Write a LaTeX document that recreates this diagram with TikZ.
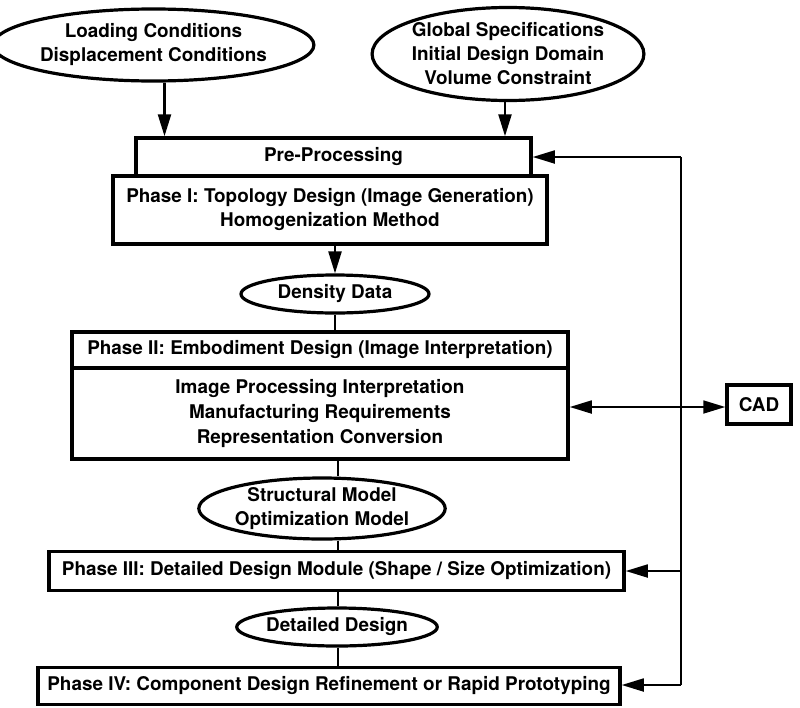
\documentclass[tikz,border=0pt]{standalone}
\usepackage{fontspec}
\setmainfont{TeX Gyre Heros}
\usetikzlibrary{shapes.geometric,arrows.meta}
\begin{document}
\begin{tikzpicture}[x=1pt,y=-1pt,
  every node/.style={font=\fontsize{18.9}{24}\selectfont\bfseries, align=center, inner sep=0pt},
  ell/.style={ellipse, draw, line width=3.2pt},
  box/.style={rectangle, draw, line width=3.5pt},
  conn/.style={line width=2.4pt},
  arr/.style={conn, -{Triangle[length=22pt,width=13pt]}},
  fb/.style={line width=1.8pt},
  fbarr/.style={fb, -{Triangle[length=22pt,width=13pt]}},
  both/.style={fb, {Triangle[length=22pt,width=13pt]}-{Triangle[length=22pt,width=13pt]}},
]
\useasboundingbox (0,0) rectangle (800,707);

% inputs
\node[ell, minimum width=285, minimum height=72] (load) at (153.5,45) {Loading Conditions\\Displacement Conditions};
\node[ell, minimum width=255, minimum height=93] (glob) at (508,54) {Global Specifications\\Initial Design Domain\\Volume Constraint};

% phase I
\node[box, minimum width=395, minimum height=38] (pre) at (333.5,157) {Pre-Processing};
\node[box, minimum width=434, minimum height=68] (p1) at (330,210) {Phase I: Topology Design (Image Generation)\\Homogenization Method};

\node[ell, minimum width=188, minimum height=38] (dens) at (335,294) {Density Data};

% phase II
\node[box, minimum width=496, minimum height=36] (p2h) at (320,350) {Phase II: Embodiment Design (Image Interpretation)};
\node[box, minimum width=496, minimum height=91] (p2b) at (320,413.5) {Image Processing Interpretation\\[1pt]Manufacturing Requirements\\[1pt]Representation Conversion};

\node[ell, minimum width=236, minimum height=61] (model) at (322,508.5) {Structural Model\\Optimization Model};

% phase III / IV
\node[box, minimum width=575, minimum height=39] (p3) at (336.5,571) {Phase III: Detailed Design Module (Shape / Size Optimization)};
\node[ell, minimum width=190, minimum height=38] (dd) at (337,627) {Detailed Design};
\node[box, minimum width=582, minimum height=37] (p4) at (329,686) {Phase IV: Component Design Refinement or Rapid Prototyping};

\node[box, minimum width=64, minimum height=39] (cad) at (759,404.5) {CAD};

% spine coordinates
\coordinate (spine) at (338,0);
\coordinate (fbtop) at (681,157);
\coordinate (fbbot) at (681,685);

% main flow
\draw[arr] ([xshift=11pt]load.south) -- ([xshift=11pt]load.south |- pre.north);
\draw[arr] ([xshift=-3pt]glob.south) -- ([xshift=-3pt]glob.south |- pre.north);
\draw[arr] (dens.north |- p1.south) -- (dens.north);
\draw[conn] (dens.south) -- (dens.south |- p2h.north);
\draw[conn] (p2b.south -| spine) -- (model.north -| spine);
\draw[conn] (model.south -| spine) -- (p3.north -| spine);
\draw[conn] (p3.south -| spine) -- (dd.north -| spine);
\draw[conn] (dd.south -| spine) -- (p4.north -| spine);

% feedback loop
\draw[fb] (fbtop) -- (fbbot);
\draw[fbarr] (fbtop) -- (pre.east);
\draw[fbarr] (fbtop |- p3.east) -- (p3.east);
\draw[fbarr] (fbbot) -- (fbbot -| p4.east);

% CAD link
\draw[both] (cad.west |- 0,407) -- (p2b.east |- 0,407);
\end{tikzpicture}
\end{document}
